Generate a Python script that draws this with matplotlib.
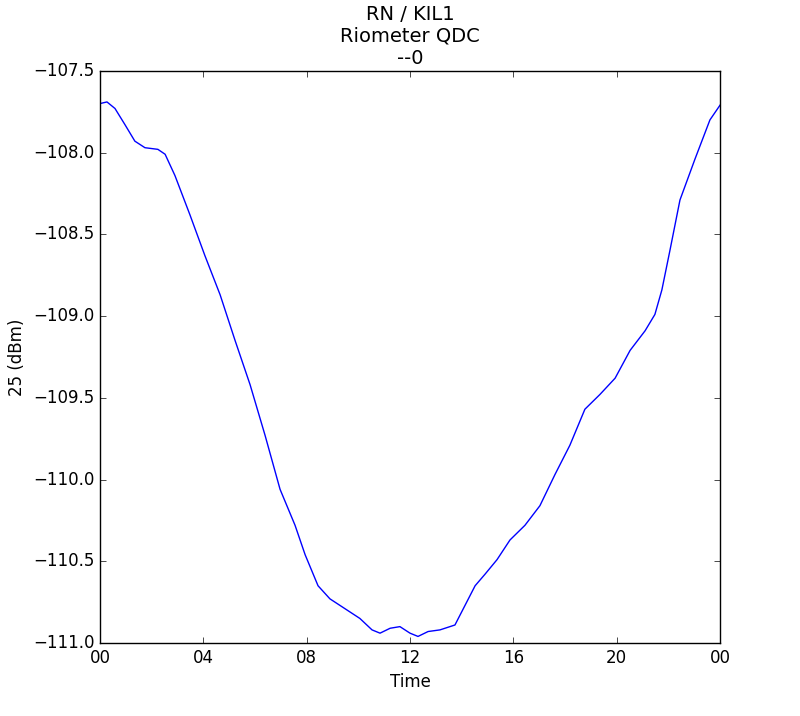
import matplotlib
matplotlib.use("Agg")
import matplotlib.pyplot as plt

plt.style.use('classic')

# hours since start of day, power (dBm)
hours = [0, 0.27, 0.58, 0.97, 1.35, 1.74, 2.24, 2.52, 2.9, 3.48, 4.06, 4.65, 5.23, 5.81,
         6.39, 6.97, 7.55, 7.94, 8.44, 8.9, 9.48, 10.06, 10.53, 10.84, 11.23, 11.61, 12.0,
         12.31, 12.7, 13.16, 13.74, 14.13, 14.52, 14.9, 15.37, 15.87, 16.45, 17.03, 17.61,
         18.19, 18.77, 19.35, 19.94, 20.52, 21.1, 21.48, 21.75, 22.06, 22.45, 23.03, 23.61, 24]
power = [-107.70, -107.69, -107.73, -107.83, -107.93, -107.97, -107.98, -108.01, -108.14,
         -108.38, -108.63, -108.87, -109.15, -109.42, -109.73, -110.06, -110.28, -110.46,
         -110.65, -110.73, -110.79, -110.85, -110.92, -110.94, -110.91, -110.90, -110.94,
         -110.96, -110.93, -110.92, -110.89, -110.77, -110.65, -110.58, -110.49, -110.37,
         -110.28, -110.16, -109.97, -109.79, -109.57, -109.48, -109.38, -109.21, -109.09,
         -108.99, -108.84, -108.60, -108.29, -108.04, -107.80, -107.71]
xticks = [0, 4, 8, 12, 16, 20, 24]
xlabels = ['00', '04', '08', '12', '16', '20', '00']

fig = plt.figure(figsize=(8, 7.16), dpi=100, facecolor='white')
ax = fig.add_axes([0.125, 0.102, 0.775, 0.799])
ax.plot(hours, power, color='blue', lw=1)
ax.set_xlim(0, 24)
ax.set_ylim(-111, -107.5)
ax.set_xticks(xticks)
ax.set_xticklabels(xlabels)
ax.set_yticks([-111, -110.5, -110, -109.5, -109, -108.5, -108, -107.5])
ax.set_xlabel('Time')
ax.set_ylabel('25 (dBm)')
ax.set_title('RN / KIL1\nRiometer QDC\n--0', fontsize=14)
fig.savefig('out.png', dpi=100, facecolor='white')
